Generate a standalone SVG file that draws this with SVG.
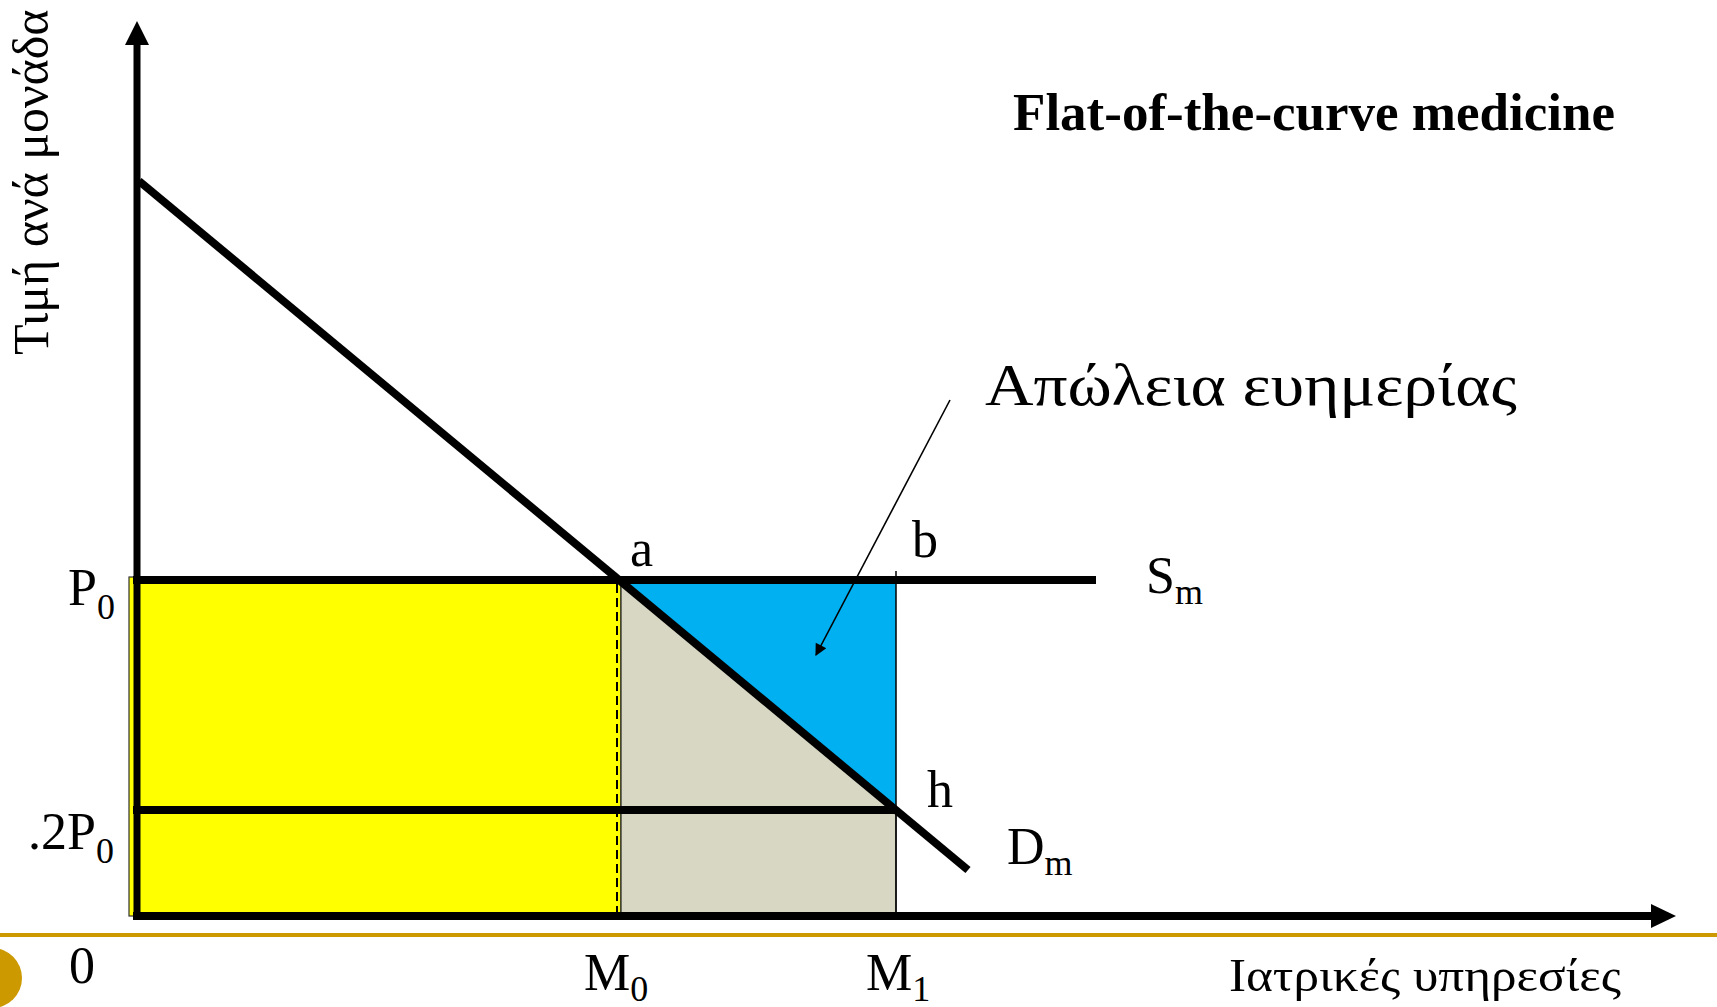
<svg xmlns="http://www.w3.org/2000/svg" width="1717" height="1007" viewBox="0 0 1717 1007">
<style>
.lbl{font-family:"Liberation Serif","Times New Roman",serif;font-size:52px;fill:#000}
.sub{font-size:36px}
.grk{font-family:"Liberation Serif","Times New Roman",serif;fill:#000}
.thick{stroke:#000;stroke-width:8;fill:none}
</style>
<defs>
<marker id="ah" viewBox="0 0 10 10" refX="9" refY="5" markerWidth="14" markerHeight="12" markerUnits="userSpaceOnUse" orient="auto">
<path d="M0,0 L10,5 L0,10 z" fill="#000"/>
</marker>
</defs>
<rect width="1717" height="1007" fill="#fff"/>
<g id="areas">
<rect id="yellow" x="129" y="577" width="492" height="339" fill="#FFFF00" stroke="#333" stroke-width="1.2"/>
<polygon id="grey" points="621,581 896,810 896,916 621,916" fill="#D8D7C3" stroke="#222" stroke-width="1.2"/>
<polygon id="blue" points="621,581 896,581 896,810" fill="#00B0F0"/>
</g>
<g id="connectors">
<line x1="617" y1="584" x2="617" y2="914" stroke="#000" stroke-width="2" stroke-dasharray="9,5"/>
<line x1="896" y1="571" x2="896" y2="916" stroke="#000" stroke-width="1.5"/>
<line x1="133" y1="580" x2="1096" y2="580" class="thick"/>
<line x1="133" y1="810" x2="896" y2="810" class="thick"/>
<line x1="139" y1="181" x2="968" y2="870" class="thick"/>
<line x1="137" y1="918" x2="137" y2="40" stroke="#000" stroke-width="7"/>
<polygon points="137,21 125,45 149,45" fill="#000"/>
<line x1="133" y1="916" x2="1655" y2="916" stroke="#000" stroke-width="8"/>
<polygon points="1676,916 1651,904 1651,928" fill="#000"/>
<line x1="950" y1="400" x2="816" y2="655" stroke="#000" stroke-width="1.6" marker-end="url(#ah)"/>
</g>
<g id="decor">
<rect x="0" y="933" width="1717" height="4" fill="#CC9900"/>
<circle cx="-8" cy="978" r="30" fill="#CC9900"/>
</g>
<g id="labels">
<text class="grk" font-size="50" transform="translate(48,355) rotate(-90)">Τιμή ανά μονάδα</text>
<text class="lbl" x="1013" y="130" font-weight="bold" font-size="53" textLength="602" lengthAdjust="spacingAndGlyphs">Flat-of-the-curve medicine</text>
<text class="grk" x="985" y="405" font-size="59" textLength="532" lengthAdjust="spacingAndGlyphs">Απώλεια ευημερίας</text>
<text class="lbl" x="68" y="605">P<tspan class="sub" dy="14">0</tspan></text>
<text class="lbl" x="28" y="849">.2P<tspan class="sub" dy="14">0</tspan></text>
<text class="lbl" x="69" y="983">0</text>
<text class="lbl" x="630" y="566">a</text>
<text class="lbl" x="912" y="557">b</text>
<text class="lbl" x="927" y="807">h</text>
<text class="lbl" x="1146" y="593">S<tspan class="sub" dy="11">m</tspan></text>
<text class="lbl" x="1007" y="864">D<tspan class="sub" dy="11">m</tspan></text>
<text class="lbl" x="584" y="990">M<tspan class="sub" dy="11">0</tspan></text>
<text class="lbl" x="866" y="990">M<tspan class="sub" dy="11">1</tspan></text>
<text class="grk" x="1229" y="991" font-size="47" textLength="392" lengthAdjust="spacingAndGlyphs">Ιατρικές υπηρεσίες</text>
</g>
</svg>
